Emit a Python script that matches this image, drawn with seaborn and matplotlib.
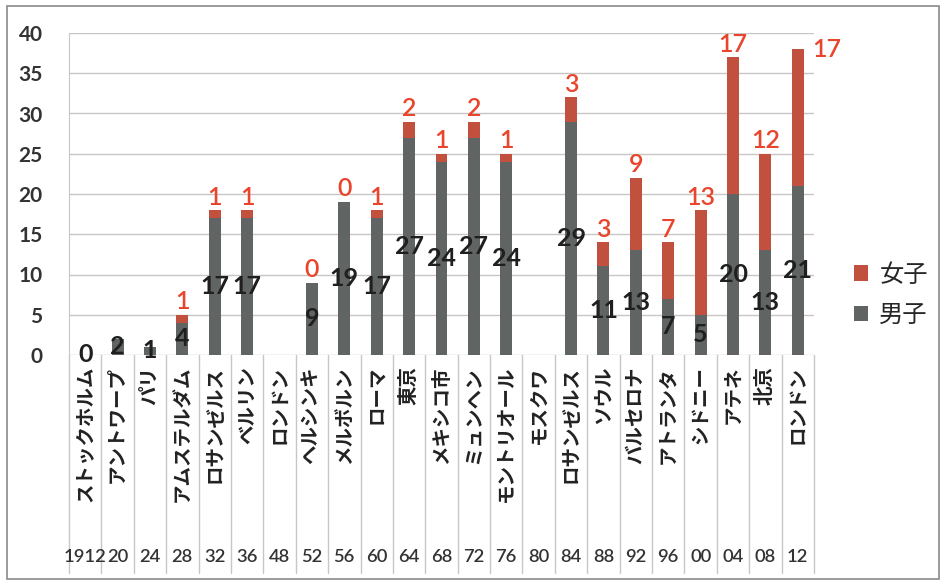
import numpy as np
import pandas as pd
import matplotlib
matplotlib.use("Agg")
import matplotlib.pyplot as plt
import matplotlib.transforms as mtransforms
from matplotlib.patches import Patch, Rectangle
from matplotlib.lines import Line2D
import seaborn as sns

# Japanese Olympic medal counts by games, split into men and women
years = ["1912", "20", "24", "28", "32", "36", "48", "52", "56", "60", "64", "68",
         "72", "76", "80", "84", "88", "92", "96", "00", "04", "08", "12"]
cities = ["ストックホルム", "アントワープ", "パリ", "アムステルダム", "ロサンゼルス", "ベルリン",
          "ロンドン", "ヘルシンキ", "メルボルン", "ローマ", "東京", "メキシコ市", "ミュンヘン",
          "モントリオール", "モスクワ", "ロサンゼルス", "ソウル", "バルセロナ", "アトランタ",
          "シドニー", "アテネ", "北京", "ロンドン"]
male = [0, 2, 1, 4, 17, 17, None, 9, 19, 17, 27, 24, 27, 24, None, 29, 11, 13, 7, 5, 20, 13, 21]
female = [None, None, None, 1, 1, 1, None, 0, 0, 1, 2, 1, 2, 1, None, 3, 3, 9, 7, 13, 17, 12, 17]

df = pd.DataFrame({"year": years, "city": cities,
                   "male": pd.Series(male, dtype="float"),
                   "female": pd.Series(female, dtype="float")})
df["total"] = df["male"].fillna(0) + df["female"].fillna(0)
df["male_bar"] = df["male"].fillna(0)

GRAY = "#606462"
RED = "#c2503e"
RED_TEXT = "#e8452c"
GRID = "#c9c6c4"
CJK = ["Noto Sans CJK JP", "DejaVu Sans"]

sns.set_style("white")
plt.rcParams["font.family"] = ["Lato", "Noto Sans CJK JP", "DejaVu Sans"]

W, H = 944, 584
fig = plt.figure(figsize=(W / 100, H / 100), dpi=100)
x0, x1, ybase, ytop = 69, 814, 355, 33
ax = fig.add_axes([x0 / W, 1 - ybase / H, (x1 - x0) / W, (ybase - ytop) / H])

# stacked bars: total (women on top) first, men drawn over it
sns.barplot(data=df, x="year", y="total", order=years, color=RED, width=0.37,
            saturation=1, ax=ax, zorder=3)
sns.barplot(data=df, x="year", y="male_bar", order=years, color=GRAY, width=0.37,
            saturation=1, ax=ax, zorder=3)
for p in ax.patches:
    p.set_edgecolor("none")

ax.set_xlim(-0.5, len(years) - 0.5)
ax.set_ylim(0, 40)
ax.set_yticks(np.arange(0, 41, 5))
ax.yaxis.grid(True, color=GRID, lw=1)
ax.set_axisbelow(True)
ax.set_xlabel("")
ax.set_ylabel("")
ax.set_xticks([])
for s in ["top", "right", "bottom"]:
    ax.spines[s].set_visible(False)
ax.spines["left"].set_color(GRID)
ax.tick_params(axis="y", length=9, color=GRID, width=1, pad=10,
               labelsize=15, labelcolor="#333333")
for t in ax.get_yticklabels():
    t.set_fontweight("bold")

# value labels
for i, row in df.iterrows():
    if not np.isnan(row["male"]):
        ax.text(i, row["male"] / 2, f"{int(row['male'])}", ha="center", va="center",
                fontsize=18, fontweight="bold", color="#1f1f1f", zorder=5)
    if not np.isnan(row["female"]):
        if row["total"] >= 38:
            ax.annotate(f"{int(row['female'])}", (i + 0.19, row["total"]),
                        xytext=(6, 0), textcoords="offset points",
                        ha="left", va="center", fontsize=18, fontweight="semibold",
                        color=RED_TEXT, zorder=5)
        else:
            ax.annotate(f"{int(row['female'])}", (i, row["total"]),
                        xytext=(0, 4), textcoords="offset points",
                        ha="center", va="baseline", fontsize=18, fontweight="semibold",
                        color=RED_TEXT, zorder=5)

# category area under the axis: city names (rotated) and years
trans = mtransforms.blended_transform_factory(ax.transData, fig.transFigure)
y_sep_bottom = 1 - 573 / H
for i, (yr, city) in enumerate(zip(years, cities)):
    ax.text(i, 1 - 366 / H, city, rotation=90, ha="center", va="top",
            fontsize=14, fontweight="bold", color="#222222", transform=trans,
            clip_on=False, family=CJK)
    ax.text(i, 1 - 557 / H, yr, ha="center", va="center", fontsize=13.2,
            fontweight="semibold", color="#333333", transform=trans, clip_on=False)
for b in np.arange(-0.5, len(years), 1.0):
    ax.add_line(Line2D([b, b], [1 - ybase / H, y_sep_bottom], transform=trans,
                       color=GRID, lw=1, clip_on=False, zorder=1))

# legend
handles = [Patch(facecolor=RED, edgecolor="none", label="女子"),
           Patch(facecolor=GRAY, edgecolor="none", label="男子")]
fig.legend(handles=handles, loc="center left", bbox_to_anchor=(832 / W, 1 - 295 / H),
           frameon=False, handlelength=0.6, handleheight=0.6,
           handletextpad=0.45, labelspacing=0.6,
           prop={"family": CJK, "size": 17.5})

# chart frame
fig.add_artist(Rectangle((7 / W, 1 - 579 / H), (939 - 7) / W, (579 - 6) / H,
                         transform=fig.transFigure, fill=False, edgecolor="#8a8a8a", lw=1.2))

fig.savefig("out.png", dpi=100, facecolor="white")
